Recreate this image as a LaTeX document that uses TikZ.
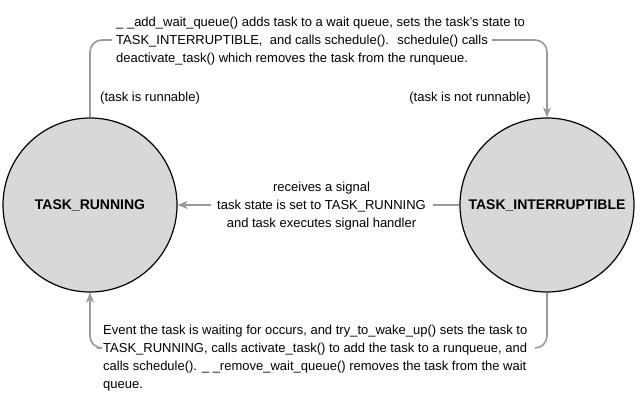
\documentclass[tikz,border=0pt]{standalone}
\usepackage{fontspec}
\setmainfont{Liberation Sans}
\usetikzlibrary{arrows.meta}
\definecolor{circfill}{HTML}{D8D8DA}
\definecolor{conngray}{HTML}{9A9A9A}
\begin{document}
\begin{tikzpicture}[x=1pt,y=-1pt,
  state/.style={circle,draw=black,line width=1.2pt,fill=circfill,minimum size=174pt,inner sep=0pt,font=\fontsize{14}{16}\selectfont\bfseries},
  conn/.style={draw=conngray,line width=1.6pt,rounded corners=12pt},
  arrowend/.style={-{Stealth[length=10pt,width=8pt,inset=3pt]}},
  txt/.style={font=\fontsize{13}{18}\selectfont,inner sep=0pt,text=black}]
\useasboundingbox[fill=white] (0,0) rectangle (640,403);
\node[state] (run) at (90,205) {TASK\_RUNNING};
\node[state] (int) at (547,205) {TASK\_INTERRUPTIBLE};
% top transition
\node[txt,anchor=north west,align=left] (top) at (116,16.5) {\_ \_add\_wait\_queue() adds task to a wait queue, sets the task's state to\\TASK\_INTERRUPTIBLE, \ and calls schedule(). \ schedule() calls\\deactivate\_task() which removes the task from the runqueue.};
\coordinate (tl) at (112,40);
\coordinate (tr) at (492,40);
\draw[conn] (run.north) |- (tl);
\draw[conn,arrowend] (tr) -| (int.north);
\node[txt,anchor=west] (lr) at (100,98) {(task is runnable)};
\node[txt,anchor=east] (lnr) at (531,98) {(task is not runnable)};
% middle transition
\node[txt,anchor=north,align=center] (mid) at (321.5,181.5) {receives a signal\\task state is set to TASK\_RUNNING\\and task executes signal handler};
\coordinate (mr) at (433,205);
\coordinate (ml) at (211,205);
\draw[conn] (int.west) -- (mr);
\draw[conn,arrowend] (ml) -- (run.east);
% bottom transition
\node[txt,anchor=north west,align=left] (bot) at (103,325) {Event the task is waiting for occurs, and try\_to\_wake\_up() sets the task to\\TASK\_RUNNING, calls activate\_task() to add the task to a runqueue, and\\calls schedule(). \_ \_remove\_wait\_queue() removes the task from the wait\\queue.};
\coordinate (bl) at (97,348);
\coordinate (br) at (535,348);
\draw[conn] (int.south) |- (br);
\draw[conn,arrowend] (bl) -| (run.south);
\end{tikzpicture}
\end{document}
